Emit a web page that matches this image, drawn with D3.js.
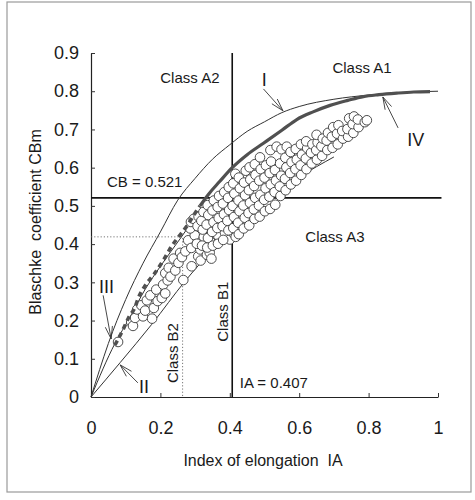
<!DOCTYPE html>
<html><head><meta charset="utf-8">
<script src="https://cdn.jsdelivr.net/npm/d3@7"></script>
<style>
body{margin:0;background:#fff}
svg{display:block}
text{font-family:"Liberation Sans",Arial,sans-serif;fill:#1a1a1a;white-space:pre}
</style>
</head><body>
<svg id="chart" width="475" height="500"></svg>
<script>
// ---------- data ----------
const xTickValues = [0, 0.2, 0.4, 0.6, 0.8, 1];
const xTickLabels = ["0", "0.2", "0.4", "0.6", "0.8", "1"];
const yTickValues = [0, 0.1, 0.2, 0.3, 0.4, 0.5, 0.6, 0.7, 0.8, 0.9];
const yTickLabels = ["0", "0.1", "0.2", "0.3", "0.4", "0.5", "0.6", "0.7", "0.8", "0.9"];

const thresholdIA = 0.407;
const thresholdCB = 0.521;
const dottedIA = 0.264;
const dottedCB = 0.419;

// curve I (upper thin line)
const curveI = [[0,0],[0.025,0.072],[0.05,0.14],[0.1,0.255],[0.15,0.35],[0.2,0.432],[0.25,0.515],[0.3,0.572],
  [0.35,0.622],[0.4,0.66],[0.45,0.695],[0.5,0.72],[0.55,0.744],[0.6,0.76],[0.7,0.779],[0.8,0.79],[0.9,0.797],[1.0,0.8]];
// curve II (lower thin line)
const curveII = [[0,0],[0.084,0.09],[0.175,0.19],[0.271,0.303],[0.35,0.385],[0.405,0.437],[0.5,0.51],[0.6,0.575],[0.7,0.628]];
// line III
const curveIII = [[0,0],[0.069,0.14],[0.11,0.205],[0.155,0.28],[0.2,0.342],[0.26,0.418],[0.3,0.47]];
// series IV (dark markers)
const seriesIV = [[0.069,0.136],[0.09,0.172],[0.11,0.21],[0.127,0.235],[0.136,0.258],[0.155,0.29],[0.184,0.324],
  [0.21,0.36],[0.232,0.394],[0.261,0.429],[0.28,0.452],[0.295,0.474],[0.314,0.5],[0.34,0.532],[0.37,0.563],
  [0.407,0.6],[0.45,0.634],[0.497,0.664],[0.55,0.698],[0.593,0.726],[0.64,0.746],[0.689,0.763],[0.74,0.776],
  [0.785,0.786],[0.83,0.791],[0.881,0.795],[0.93,0.798],[0.977,0.799]];

// open circles [IA, CBm]
const scatterPoints = [
 [0.078,0.144],
 [0.116,0.196],[0.121,0.186],[0.127,0.207],[0.133,0.229],[0.145,0.24],[0.15,0.211],[0.156,0.226],[0.161,0.253],
 [0.171,0.266],[0.176,0.205],[0.181,0.233],[0.188,0.281],[0.192,0.251],[0.204,0.259],[0.208,0.294],[0.214,0.271],
 [0.214,0.324],[0.221,0.305],[0.224,0.338],[0.229,0.315],[0.238,0.362],[0.243,0.331],[0.252,0.351],[0.257,0.377],
 [0.262,0.366],[0.266,0.306],[0.272,0.381],[0.28,0.41],[0.289,0.39],[0.29,0.342],[0.299,0.423],[0.309,0.368],
 [0.315,0.386],[0.316,0.357],[0.325,0.419],[0.334,0.372],[0.342,0.378],[0.344,0.406],[0.347,0.362],[0.366,0.423],
 [0.386,0.43],[0.4,0.412],[0.411,0.428],[0.417,0.419],
 [0.286,0.441],[0.288,0.458],[0.296,0.466],
 [0.305,0.401],[0.307,0.447],[0.31,0.472],
 [0.32,0.396],[0.322,0.438],[0.318,0.461],[0.324,0.484],
 [0.335,0.391],[0.337,0.416],[0.333,0.451],[0.338,0.476],[0.336,0.502],
 [0.351,0.396],[0.349,0.432],[0.353,0.457],[0.35,0.488],[0.354,0.514],
 [0.366,0.401],[0.364,0.442],[0.368,0.468],[0.365,0.497],[0.369,0.526],
 [0.381,0.411],[0.379,0.447],[0.383,0.478],[0.38,0.506],[0.384,0.536],
 [0.396,0.436],[0.393,0.461],[0.398,0.489],[0.395,0.521],[0.397,0.549],
 [0.41,0.442],[0.412,0.471],[0.408,0.5],[0.413,0.532],[0.41,0.559],[0.416,0.584],
 [0.426,0.426],[0.424,0.456],[0.428,0.486],[0.425,0.514],[0.429,0.546],[0.426,0.574],
 [0.44,0.441],[0.443,0.469],[0.439,0.501],[0.444,0.528],[0.441,0.561],[0.446,0.592],
 [0.456,0.449],[0.454,0.481],[0.458,0.508],[0.455,0.541],[0.459,0.569],[0.457,0.601],
 [0.471,0.466],[0.469,0.491],[0.473,0.521],[0.47,0.552],[0.474,0.581],[0.472,0.609],
 [0.486,0.472],[0.484,0.501],[0.488,0.529],[0.485,0.566],[0.489,0.596],[0.487,0.627],
 [0.501,0.486],[0.499,0.516],[0.503,0.546],[0.5,0.574],[0.504,0.606],
 [0.516,0.492],[0.514,0.524],[0.518,0.556],[0.515,0.586],[0.519,0.616],[0.517,0.646],
 [0.531,0.503],[0.529,0.536],[0.533,0.566],[0.53,0.594],[0.535,0.655],
 [0.546,0.526],[0.544,0.551],[0.548,0.579],[0.545,0.611],[0.549,0.648],
 [0.561,0.541],[0.559,0.571],[0.563,0.601],[0.56,0.626],[0.564,0.655],
 [0.576,0.556],[0.574,0.586],[0.578,0.614],[0.575,0.641],
 [0.591,0.566],[0.589,0.596],[0.593,0.621],[0.59,0.649],
 [0.606,0.581],[0.604,0.606],[0.608,0.634],[0.605,0.661],
 [0.621,0.596],[0.619,0.624],[0.623,0.651],[0.62,0.669],
 [0.636,0.611],[0.634,0.639],[0.638,0.661],
 [0.651,0.621],[0.649,0.646],[0.653,0.666],[0.65,0.686],
 [0.666,0.631],[0.664,0.656],[0.668,0.676],
 [0.681,0.646],[0.679,0.671],[0.683,0.691],
 [0.696,0.652],[0.694,0.681],[0.698,0.706],
 [0.711,0.661],[0.709,0.689],[0.713,0.711],
 [0.726,0.676],[0.724,0.696],
 [0.741,0.681],[0.739,0.701],[0.744,0.729],
 [0.756,0.691],[0.754,0.714],[0.758,0.734],
 [0.771,0.706],[0.769,0.726],
 [0.789,0.719],[0.795,0.724]
];

// text annotations (data coordinates)
const classLabels = [
 {text:"Class A2", ia:0.285, cb:0.835, rot:false, anchor:"middle"},
 {text:"Class A1", ia:0.781, cb:0.861, rot:false, anchor:"middle"},
 {text:"Class A3", ia:0.703, cb:0.419, rot:false, anchor:"middle"},
 {text:"CB = 0.521", ia:0.046, cb:0.563, rot:false, anchor:"start"},
 {text:"IA = 0.407", ia:0.429, cb:0.037, rot:false, anchor:"start"},
 {text:"Class B2", ia:0.236, cb:0.115, rot:true, anchor:"middle"},
 {text:"Class B1", ia:0.378, cb:0.223, rot:true, anchor:"middle"}
];
const arrowLabels = [
 {text:"I",   lx:0.499, ly:0.83,  from:[0.497,0.806], to:[0.553,0.749]},
 {text:"IV",  lx:0.936, ly:0.673, from:[0.885,0.704], to:[0.841,0.785]},
 {text:"III", lx:0.045, ly:0.288, from:[0.035,0.266], to:[0.058,0.152]},
 {text:"II",  lx:0.153, ly:0.026, from:[0.135,0.037], to:[0.084,0.084]}
];
const xTitle = "Index of elongation  IA";
const yTitle = "Blaschke  coefficient CBm";

// ---------- drawing ----------
const svg = d3.select("#chart");
const x = d3.scaleLinear().domain([0,1]).range([91,438]);
const y = d3.scaleLinear().domain([0,0.9]).range([397,53]);

// frame
svg.append("rect").attr("x",7).attr("y",2).attr("width",464).attr("height",490)
  .attr("fill","none").attr("stroke","#9a9a9a").attr("stroke-width",1.2);

// axes
const xAxis = d3.axisBottom(x).tickValues(xTickValues).tickFormat((d,i)=>xTickLabels[i])
  .tickSizeInner(-4).tickSizeOuter(0).tickPadding(24);
const yAxis = d3.axisLeft(y).tickValues(yTickValues).tickFormat((d,i)=>yTickLabels[i])
  .tickSizeInner(-4).tickSizeOuter(0).tickPadding(12);
const gx = svg.append("g").attr("transform",`translate(0,${y(0)})`).call(xAxis);
const gy = svg.append("g").attr("transform",`translate(${x(0)},0)`).call(yAxis);
[gx,gy].forEach(g=>{
  g.select(".domain").attr("stroke","#222").attr("stroke-width",1.2);
  g.selectAll(".tick line").attr("stroke","#333").attr("stroke-width",1);
  g.selectAll(".tick text").attr("font-size",18).attr("fill","#1a1a1a")
   .attr("font-family","'Liberation Sans',Arial,sans-serif");
});

// axis titles
svg.append("text").attr("x",263).attr("y",460).attr("text-anchor","middle")
  .attr("dominant-baseline","central").attr("font-size",16).text(xTitle);
svg.append("text").attr("transform",`translate(35,222) rotate(-90)`).attr("text-anchor","middle")
  .attr("dominant-baseline","central").attr("font-size",16).text(yTitle);

const line = d3.line().x(d=>x(d[0])).y(d=>y(d[1]));
const smooth = d3.line().x(d=>x(d[0])).y(d=>y(d[1])).curve(d3.curveMonotoneX);

// threshold lines
svg.append("line").attr("x1",x(thresholdIA)).attr("x2",x(thresholdIA)).attr("y1",y(0)).attr("y2",y(0.9))
  .attr("stroke","#111").attr("stroke-width",1.6);
svg.append("line").attr("x1",x(0)).attr("x2",x(1.01)).attr("y1",y(thresholdCB)).attr("y2",y(thresholdCB))
  .attr("stroke","#111").attr("stroke-width",1.6);
// dotted guide lines
svg.append("path").attr("d",line([[0,dottedCB],[dottedIA,dottedCB],[dottedIA,0]]))
  .attr("fill","none").attr("stroke","#666").attr("stroke-width",0.9).attr("stroke-dasharray","1.2,2");

// curves
svg.append("path").attr("d",smooth(curveI)).attr("fill","none").attr("stroke","#333").attr("stroke-width",1);
svg.append("path").attr("d",smooth(curveII)).attr("fill","none").attr("stroke","#333").attr("stroke-width",1);
svg.append("path").attr("d",smooth(curveIII)).attr("fill","none").attr("stroke","#333").attr("stroke-width",1);

// open circles
svg.append("g").selectAll("circle").data(scatterPoints).join("circle")
  .attr("cx",d=>x(d[0])).attr("cy",d=>y(d[1])).attr("r",4.8)
  .attr("fill","#fff").attr("stroke","#3a3a3a").attr("stroke-width",0.9);

// series IV: dark markers
const ivLow = seriesIV.filter(d=>d[0]<=0.32);
const ivHigh = seriesIV.filter(d=>d[0]>=0.31);
svg.append("path").attr("d",smooth(ivLow)).attr("fill","none").attr("stroke","#505050")
  .attr("stroke-width",3.6).attr("stroke-dasharray","5,4");
svg.append("path").attr("d",smooth(ivHigh)).attr("fill","none").attr("stroke","#505050")
  .attr("stroke-width",3.2);

// class labels
classLabels.forEach(c=>{
  const t = svg.append("text").attr("font-size",15).attr("text-anchor",c.anchor)
    .attr("dominant-baseline","central").text(c.text);
  if (c.rot) t.attr("transform",`translate(${x(c.ia)},${y(c.cb)}) rotate(-90)`);
  else t.attr("x",x(c.ia)).attr("y",y(c.cb));
});

// arrow labels
arrowLabels.forEach(a=>{
  const x1=x(a.from[0]), y1=y(a.from[1]), x2=x(a.to[0]), y2=y(a.to[1]);
  svg.append("line").attr("x1",x1).attr("y1",y1).attr("x2",x2).attr("y2",y2)
    .attr("stroke","#333").attr("stroke-width",0.9);
  const ang = Math.atan2(y1-y2, x1-x2);
  [-0.28,0.28].forEach(da=>{
    svg.append("line").attr("x1",x2).attr("y1",y2)
      .attr("x2",x2+13*Math.cos(ang+da)).attr("y2",y2+13*Math.sin(ang+da))
      .attr("stroke","#333").attr("stroke-width",0.9);
  });
  svg.append("text").attr("x",x(a.lx)).attr("y",y(a.ly)).attr("text-anchor","middle")
    .attr("dominant-baseline","central").attr("font-size",18).text(a.text);
});
</script>
</body></html>
